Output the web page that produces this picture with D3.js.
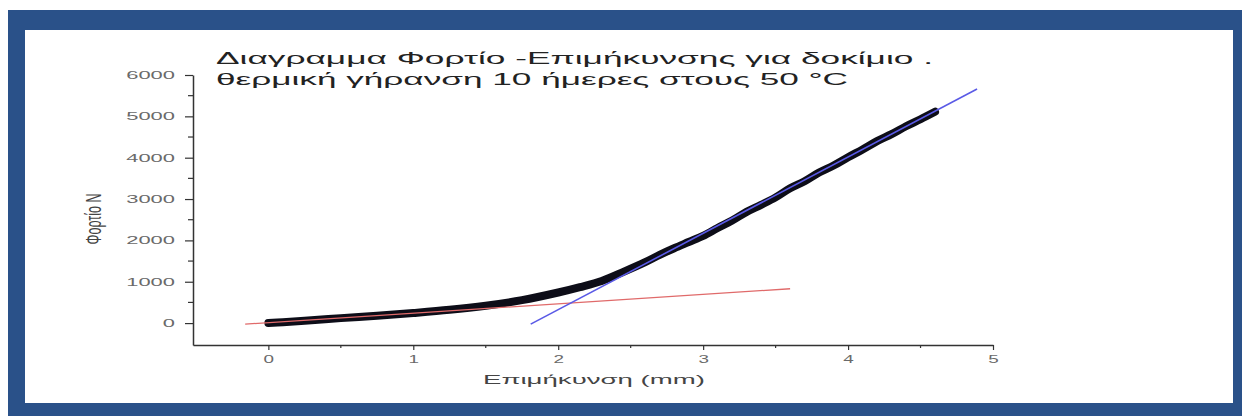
<!DOCTYPE html>
<html>
<head>
<meta charset="utf-8">
<script src="https://cdn.jsdelivr.net/npm/d3@7"></script>
<style>
  html, body { margin: 0; padding: 0; background: #ffffff; }
  svg { display: block; }
  text { font-family: "Liberation Sans", Arial, sans-serif; }
</style>
</head>
<body>
<svg id="chart" width="1242" height="416"></svg>
<script>
// ---- data ----
const titleLines = [
  "Διαγραμμα Φορτίο -Επιμήκυνσης για δοκίμιο .",
  "θερμική γήρανση 10 ήμερες στους 50 °C"
];
const xLabel = "Επιμήκυνση (mm)";
const yLabel = "Φορτίο N";

// measured load–elongation curve
const elongation = [0, 0.1, 0.25, 0.5, 0.75, 1.0, 1.25, 1.5, 1.75, 2.0, 2.15, 2.3, 2.45, 2.6, 2.7, 2.8, 2.9, 3.0, 3.1, 3.2, 3.3, 3.4, 3.5, 3.6, 3.7, 3.8, 3.9, 4.0, 4.1, 4.2, 4.3, 4.4, 4.5, 4.6];
const load       = [0, 20, 55, 120, 180, 245, 320, 420, 555, 740, 870, 1020, 1240, 1475, 1650, 1810, 1960, 2110, 2300, 2480, 2690, 2860, 3040, 3260, 3430, 3640, 3810, 4010, 4200, 4400, 4570, 4760, 4930, 5110];

// initial (red) tangent line
const redX = [-0.16, 3.6];
const redY = [-25, 830];
// secondary (blue) tangent line
const blueX = [1.81, 4.89];
const blueY = [-25, 5660];

const xTicks = [0, 1, 2, 3, 4, 5];
const xMinorTicks = [0.5, 1.5, 2.5, 3.5, 4.5];
const yTicks = [0, 1000, 2000, 3000, 4000, 5000, 6000];
const yMinorTicks = [500, 1500, 2500, 3500, 4500, 5500];

// ---- drawing ----
const svg = d3.select("#chart");

// frame
svg.append("rect").attr("x", 8).attr("y", 10).attr("width", 1234).attr("height", 406).attr("fill", "#2a5189");
svg.append("rect").attr("x", 25).attr("y", 30).attr("width", 1208).attr("height", 373).attr("fill", "#ffffff");

const x = d3.scaleLinear().domain([-0.52, 5]).range([193, 993]);
const y = d3.scaleLinear().domain([-530, 6000]).range([345, 75]);

// axes
const axisColor = "#333";
const gx = svg.append("g").attr("transform", `translate(0,${y(-530)})`);
gx.call(d3.axisBottom(x).tickValues(xTicks).tickFormat(d3.format("d")).tickSizeInner(5).tickSizeOuter(0).tickPadding(5));
gx.append("g").selectAll("line").data(xMinorTicks).join("line")
  .attr("x1", d => x(d)).attr("x2", d => x(d)).attr("y1", 0).attr("y2", 3)
  .attr("stroke", axisColor).attr("stroke-width", 1.2);

const gy = svg.append("g").attr("transform", `translate(${x(-0.52)},0)`);
gy.call(d3.axisLeft(y).tickValues(yTicks).tickFormat(d3.format("d")).tickSizeInner(8).tickSizeOuter(0).tickPadding(10));
gy.append("g").selectAll("line").data(yMinorTicks).join("line")
  .attr("x1", 0).attr("x2", -5).attr("y1", d => y(d)).attr("y2", d => y(d))
  .attr("stroke", axisColor).attr("stroke-width", 1.2);

[gx, gy].forEach(g => {
  g.select(".domain").attr("stroke", axisColor).attr("stroke-width", 1.5);
  g.selectAll(".tick line").attr("stroke", axisColor).attr("stroke-width", 1.2);
  g.selectAll(".tick text").attr("fill", "#6a6a6a").attr("font-size", 10.5)
    .attr("font-family", "Liberation Sans, Arial, sans-serif");
});
gy.selectAll(".tick text").attr("textLength", d => String(d).length * 12.2).attr("lengthAdjust", "spacingAndGlyphs");
gx.selectAll(".tick text").attr("textLength", 10.5).attr("lengthAdjust", "spacingAndGlyphs").attr("font-size", 11);

// measured curve
const pts = elongation.map((e, i) => [e, load[i]]);
const line = d3.line().x(d => x(d[0])).y(d => y(d[1])).curve(d3.curveCatmullRom);
svg.append("path").datum(pts).attr("d", line)
  .attr("fill", "none").attr("stroke", "#0d0d18").attr("stroke-width", 8)
  .attr("stroke-linecap", "round").attr("stroke-linejoin", "round");

// tangent lines
const straight = d3.line().x(d => x(d[0])).y(d => y(d[1]));
svg.append("path").datum(redX.map((v, i) => [v, redY[i]])).attr("d", straight)
  .attr("fill", "none").attr("stroke", "#e06a6a").attr("stroke-width", 1.3);
svg.append("path").datum(blueX.map((v, i) => [v, blueY[i]])).attr("d", straight)
  .attr("fill", "none").attr("stroke", "#5a5ae6").attr("stroke-width", 1.6);

// title
svg.append("text").attr("x", 216).attr("y", 64).attr("font-size", 17).attr("fill", "#222")
  .attr("textLength", 717).attr("lengthAdjust", "spacingAndGlyphs").text(titleLines[0]);
svg.append("text").attr("x", 216).attr("y", 85).attr("font-size", 17).attr("fill", "#222")
  .attr("textLength", 632).attr("lengthAdjust", "spacingAndGlyphs").text(titleLines[1]);

// axis labels
svg.append("text").attr("x", 483).attr("y", 384).attr("font-size", 13.5).attr("fill", "#444")
  .attr("textLength", 222).attr("lengthAdjust", "spacingAndGlyphs").text(xLabel);
svg.append("g").attr("transform", "translate(93,219) scale(1.8,1) rotate(-90)")
  .append("text").attr("text-anchor", "middle").attr("dy", "0.35em")
  .attr("font-size", 12.5).attr("fill", "#444").text(yLabel);
</script>
</body>
</html>
